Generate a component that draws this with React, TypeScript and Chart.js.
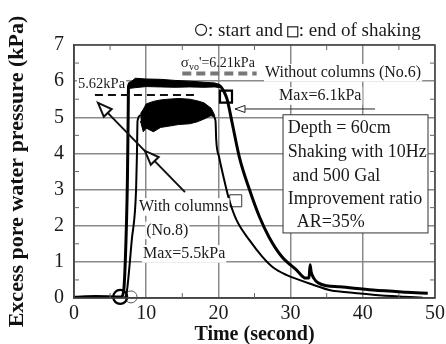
import React, { useEffect, useRef } from "react";
import { Chart, registerables } from "chart.js";

Chart.register(...registerables);

// ---- axes ----
const xMin = 0;
const xMax = 50;
const yMin = 0;
const yMax = 7;
const minorXTicks = [5, 15, 25, 35, 45];
const minorYTicks = [0.5, 1.5, 2.5, 3.5, 4.5, 5.5, 6.5];

// ---- Without columns (No.6) ----
const no6Time = [0, 3, 6.5, 6.85, 7.1, 7.4, 7.5, 7.55, 7.8, 10, 15, 19, 20.1, 20.8, 21.2, 21.9, 22.9, 24.3, 25.7, 27, 28.8, 30.8, 32.1, 32.55, 32.7, 32.85, 33.2, 33.8, 35, 36.8, 41.4, 46.1, 49];
const no6Pressure = [0.02, 0.04, 0.03, 0.15, 1.0, 3.3, 5.0, 5.85, 5.95, 5.95, 5.92, 5.9, 5.88, 5.7, 5.5, 4.85, 3.9, 3.0, 2.24, 1.69, 1.14, 0.78, 0.55, 0.55, 0.92, 0.72, 0.55, 0.42, 0.34, 0.31, 0.22, 0.16, 0.13];
const no6BandTime = [7.7, 8.5, 10, 12, 14, 16, 18, 19.5, 20.2];
const no6BandLow = [5.8, 5.82, 5.85, 5.84, 5.83, 5.84, 5.83, 5.84, 5.82];
const no6BandHigh = [5.95, 6.08, 6.06, 6.05, 6.02, 6.0, 5.97, 5.95, 5.9];

// ---- With columns (No.8) ----
const no8Time = [0, 3, 7.1, 7.3, 8.0, 8.6, 8.72, 8.8, 9.2, 12, 16, 19.2, 19.6, 19.7, 20.1, 20.8, 21.5, 22.5, 24.3, 26.1, 27.5, 29.4, 31.2, 32.6, 35.8, 36.8, 41.4, 45.1, 48.3];
const no8Pressure = [0, 0.01, 0.02, 0.15, 1.6, 3.0, 4.0, 4.9, 5.05, 5.1, 5.15, 5.05, 4.9, 4.37, 3.9, 3.27, 2.71, 2.16, 1.6, 1.14, 0.86, 0.64, 0.5, 0.4, 0.2, 0.18, 0.09, 0.04, 0.01];
const no8BandTime = [9.2, 9.6, 10, 11, 12, 13, 14.5, 16, 17, 18, 19, 19.5];
const no8BandLow = [4.9, 4.6, 4.7, 4.6, 4.72, 4.75, 4.8, 4.82, 4.87, 4.95, 5.05, 5.0];
const no8BandHigh = [5.1, 5.22, 5.37, 5.44, 5.48, 5.5, 5.52, 5.5, 5.46, 5.4, 5.25, 5.05];

// ---- start / end of shaking markers ----
const startNo6 = { x: 6.4, y: 0.03 };
const startNo8 = { x: 7.9, y: 0.03 };
const endNo6 = { x: 21.05, y: 5.57 };
const endNo8 = { x: 22.4, y: 2.69 };

// ---- reference levels ----
const sigmaVo = 6.21;
const maxLevelLabel = 5.62;

const infoLines = ["Depth = 60cm", "Shaking with 10Hz", " and 500 Gal", "Improvement ratio", "  AR=35%"];

const FONT = "'Liberation Serif', 'Times New Roman', serif";
const INK = "#1a1a1a";

function zip(t: number[], v: number[]) {
  return t.map((x, i) => ({ x, y: v[i] }));
}

function openHead(ctx: CanvasRenderingContext2D, tipX: number, tipY: number, ang: number, len: number, half: number) {
  const bx = tipX - Math.cos(ang) * len;
  const by = tipY - Math.sin(ang) * len;
  const px = -Math.sin(ang) * half;
  const py = Math.cos(ang) * half;
  ctx.beginPath();
  ctx.moveTo(tipX, tipY);
  ctx.lineTo(bx + px, by + py);
  ctx.lineTo(bx - px, by - py);
  ctx.closePath();
  ctx.fillStyle = "#fff";
  ctx.fill();
  ctx.stroke();
}

function label(ctx: CanvasRenderingContext2D, text: string, x: number, y: number, size: number, bg = true) {
  ctx.font = `${size}px ${FONT}`;
  ctx.textAlign = "left";
  ctx.textBaseline = "middle";
  const w = ctx.measureText(text).width;
  if (bg) {
    ctx.fillStyle = "#fff";
    ctx.fillRect(x - 1, y - size * 0.55, w + 2, size * 1.1);
  }
  ctx.fillStyle = INK;
  ctx.fillText(text, x, y);
}

const annotations = {
  id: "annotations",
  afterDatasetsDraw(chart: any) {
    const { ctx, chartArea: a, scales } = chart;
    const X = (v: number) => scales.x.getPixelForValue(v);
    const Y = (v: number) => scales.y.getPixelForValue(v);
    ctx.save();

    // frame
    ctx.strokeStyle = "#444";
    ctx.lineWidth = 1.5;
    ctx.strokeRect(a.left, a.top, a.right - a.left, a.bottom - a.top);

    // minor inward ticks
    ctx.strokeStyle = "#666";
    ctx.lineWidth = 1;
    ctx.beginPath();
    minorXTicks.forEach((v) => {
      const px = X(v);
      ctx.moveTo(px, a.bottom);
      ctx.lineTo(px, a.bottom - 5);
      ctx.moveTo(px, a.top);
      ctx.lineTo(px, a.top + 5);
    });
    minorYTicks.forEach((v) => {
      const py = Y(v);
      ctx.moveTo(a.left, py);
      ctx.lineTo(a.left + 5, py);
      ctx.moveTo(a.right, py);
      ctx.lineTo(a.right - 5, py);
    });
    ctx.stroke();

    // sigma'vo dashed level
    ctx.strokeStyle = "#777";
    ctx.lineWidth = 4;
    ctx.setLineDash([9, 5]);
    ctx.beginPath();
    ctx.moveTo(X(15), Y(sigmaVo));
    ctx.lineTo(X(25.3), Y(sigmaVo));
    ctx.stroke();

    // 5.62 kPa dashed level
    ctx.strokeStyle = "#111";
    ctx.lineWidth = 2;
    ctx.setLineDash([8, 5]);
    ctx.beginPath();
    ctx.moveTo(X(2.9), Y(maxLevelLabel));
    ctx.lineTo(X(17.2), Y(maxLevelLabel));
    ctx.stroke();
    ctx.setLineDash([]);

    // arrow for "Without columns"
    ctx.strokeStyle = "#222";
    ctx.lineWidth = 1;
    ctx.beginPath();
    ctx.moveTo(X(41.7), Y(5.23));
    ctx.lineTo(X(22.3), Y(5.23));
    ctx.stroke();
    openHead(ctx, X(22.3), Y(5.23), Math.PI, 10, 3.5);

    // arrows for "With columns"
    const sx = X(15.37), sy = Y(2.93), ex = X(3.32), ey = Y(5.4);
    ctx.strokeStyle = "#111";
    ctx.lineWidth = 2;
    ctx.beginPath();
    ctx.moveTo(sx, sy);
    ctx.lineTo(ex, ey);
    ctx.stroke();
    const ang = Math.atan2(ey - sy, ex - sx);
    openHead(ctx, ex, ey, ang, 14, 5.5);
    openHead(ctx, X(9.83), Y(4.07), ang, 14, 5.5);

    // text labels
    label(ctx, "5.62kPa", X(0.55), Y(5.91), 14.5);
    {
      let px = X(14.8);
      const py = Y(6.5);
      ctx.fillStyle = INK;
      ctx.textBaseline = "middle";
      ctx.font = `15px ${FONT}`;
      ctx.fillText("σ", px, py);
      px += ctx.measureText("σ").width;
      ctx.font = `10px ${FONT}`;
      ctx.fillText("vo", px, py + 4);
      px += ctx.measureText("vo").width;
      ctx.font = `14px ${FONT}`;
      ctx.fillText("'=6.21kPa", px, py);
    }
    label(ctx, "Without columns (No.6)", X(26.45), Y(6.23), 16);
    label(ctx, "Max=6.1kPa", X(28.4), Y(5.59), 16);
    label(ctx, "With columns", X(9.0), Y(2.52), 16);
    label(ctx, "(No.8)", X(10.0), Y(1.87), 16);
    label(ctx, "Max=5.5kPa", X(9.55), Y(1.22), 16);

    // info box
    const bx1 = X(28.95), by1 = Y(5.07), bx2 = X(49.03), by2 = Y(1.8);
    ctx.fillStyle = "#fff";
    ctx.fillRect(bx1, by1, bx2 - bx1, by2 - by1);
    ctx.strokeStyle = "#333";
    ctx.lineWidth = 1;
    ctx.strokeRect(bx1, by1, bx2 - bx1, by2 - by1);
    const lineY = [4.7, 4.04, 3.38, 2.74, 2.1];
    infoLines.forEach((t, i) => label(ctx, t, X(29.6), Y(lineY[i]), 18, false));

    // top legend text
    {
      const cy = Y(7.42);
      let px = X(17.6);
      ctx.strokeStyle = "#222";
      ctx.lineWidth = 1.2;
      ctx.beginPath();
      ctx.arc(px, cy, 5.5, 0, Math.PI * 2);
      ctx.stroke();
      px += 7;
      ctx.font = `19px ${FONT}`;
      ctx.fillStyle = INK;
      ctx.textBaseline = "middle";
      ctx.textAlign = "left";
      const t1 = ": start and ";
      ctx.fillText(t1, px, cy + 1);
      px += ctx.measureText(t1).width;
      ctx.strokeRect(px, cy - 3, 10, 10);
      px += 11;
      ctx.fillText(": end of shaking", px, cy + 1);
    }
    ctx.restore();
  },
};

export default function App() {
  const ref = useRef<HTMLCanvasElement | null>(null);

  useEffect(() => {
    document.body.style.margin = "0";
    const canvas = ref.current;
    if (!canvas) return;

    const bandStyle = { borderWidth: 1, borderColor: "#000", pointRadius: 0, tension: 0 };
    const chart = new Chart(canvas, {
      type: "line",
      data: {
        datasets: [
          { ...bandStyle, label: "no6Low", data: zip(no6BandTime, no6BandLow), fill: false },
          { ...bandStyle, label: "no6High", data: zip(no6BandTime, no6BandHigh), fill: "-1", backgroundColor: "#000" },
          { ...bandStyle, label: "no8Low", data: zip(no8BandTime, no8BandLow), fill: false },
          { ...bandStyle, label: "no8High", data: zip(no8BandTime, no8BandHigh), fill: "-1", backgroundColor: "#000" },
          {
            label: "Without columns (No.6)",
            data: zip(no6Time, no6Pressure),
            borderColor: "#000",
            borderWidth: 3,
            pointRadius: 0,
            cubicInterpolationMode: "monotone",
            fill: false,
          },
          {
            label: "With columns (No.8)",
            data: zip(no8Time, no8Pressure),
            borderColor: "#000",
            borderWidth: 2,
            pointRadius: 0,
            cubicInterpolationMode: "monotone",
            fill: false,
          },
          {
            label: "start No.6",
            data: [startNo6],
            showLine: false,
            clip: false,
            pointStyle: "circle",
            pointRadius: 7,
            pointBorderWidth: 2.2,
            pointBorderColor: "#000",
            pointBackgroundColor: "rgba(0,0,0,0)",
          },
          {
            label: "start No.8",
            data: [startNo8],
            showLine: false,
            clip: false,
            pointStyle: "circle",
            pointRadius: 6,
            pointBorderWidth: 1,
            pointBorderColor: "#555",
            pointBackgroundColor: "rgba(0,0,0,0)",
          },
          {
            label: "end No.6",
            data: [endNo6],
            showLine: false,
            clip: false,
            pointStyle: "rect",
            pointRadius: 8.5,
            pointBorderWidth: 2.2,
            pointBorderColor: "#000",
            pointBackgroundColor: "rgba(0,0,0,0)",
          },
          {
            label: "end No.8",
            data: [endNo8],
            showLine: false,
            clip: false,
            pointStyle: "rect",
            pointRadius: 8.5,
            pointBorderWidth: 1,
            pointBorderColor: "#333",
            pointBackgroundColor: "#fff",
          },
        ],
      },
      options: {
        responsive: false,
        animation: false,
        devicePixelRatio: 1,
        layout: { padding: { top: 45, right: 11, left: 0, bottom: 0 } },
        plugins: { legend: { display: false }, tooltip: { enabled: false } },
        font: { family: FONT },
        scales: {
          x: {
            type: "linear",
            min: xMin,
            max: xMax,
            ticks: { stepSize: 10, color: INK, font: { size: 20, family: FONT }, padding: 4, maxRotation: 0 },
            grid: { color: "#8a8a8a", lineWidth: 1.5, drawTicks: false },
            border: { color: "#444", width: 1.5 },
            title: {
              display: true,
              text: "Time (second)",
              color: "#111",
              font: { size: 20, weight: "bold", family: FONT },
              padding: { top: 0, bottom: -3 },
            },
            afterFit: (s: any) => {
              s.height = 46;
              s.paddingLeft = 0;
              s.paddingRight = 0;
            },
          },
          y: {
            min: yMin,
            max: yMax,
            ticks: { stepSize: 1, color: INK, font: { size: 20, family: FONT }, padding: 10 },
            grid: { color: "#8a8a8a", lineWidth: 1.5, drawTicks: false },
            border: { color: "#444", width: 1.5 },
            title: {
              display: true,
              text: "Excess pore water pressure (kPa)",
              color: "#111",
              font: { size: 22, weight: "bold", family: FONT },
              padding: { top: 4, bottom: 0 },
            },
            afterFit: (s: any) => {
              s.width = 74;
              s.paddingTop = 0;
              s.paddingBottom = 0;
            },
          },
        },
      },
      plugins: [annotations],
    } as any);

    return () => chart.destroy();
  }, []);

  return (
    <div style={{ width: 446, height: 344 }}>
      <canvas ref={ref} width={446} height={344} style={{ display: "block" }} />
    </div>
  );
}
